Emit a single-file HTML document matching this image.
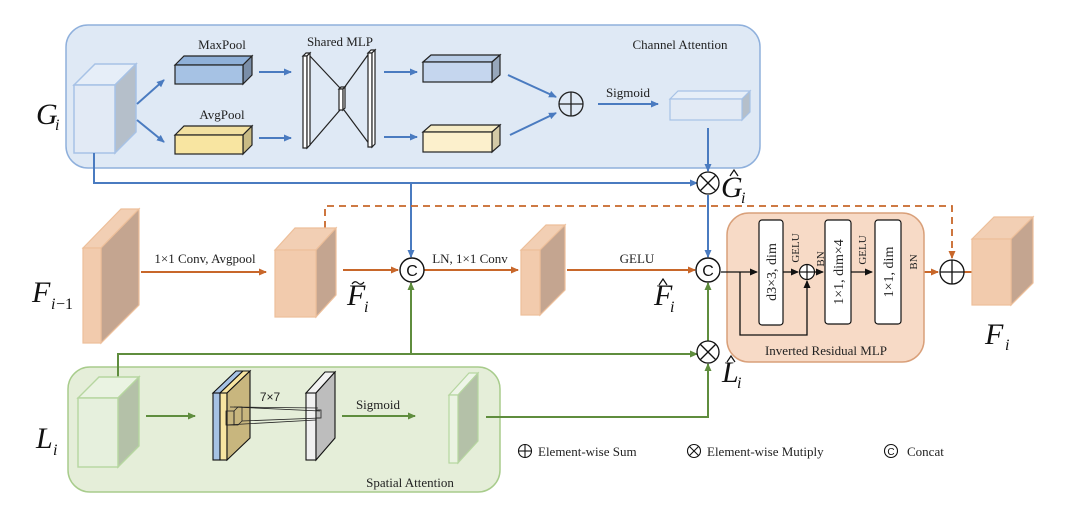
<!DOCTYPE html>
<html><head><meta charset="utf-8"><style>
html,body{margin:0;padding:0;background:#fff;}
svg{display:block;font-family:"Liberation Serif",serif;}
.t{font-size:13px;fill:#222;}
.L{font-style:italic;font-size:30px;fill:#111;}
.s{font-style:italic;font-size:16px;fill:#111;}
</style></head><body>
<svg width="1080" height="505" viewBox="0 0 1080 505" xmlns="http://www.w3.org/2000/svg">
<defs>
<marker id="ab" markerWidth="8" markerHeight="8" refX="7" refY="4" orient="auto" markerUnits="userSpaceOnUse"><path d="M0,0.5 L8,4 L0,7.5z" fill="#4a7bc0"/></marker>
<marker id="ao" markerWidth="8" markerHeight="8" refX="7" refY="4" orient="auto" markerUnits="userSpaceOnUse"><path d="M0,0.5 L8,4 L0,7.5z" fill="#c8672a"/></marker>
<marker id="ag" markerWidth="8" markerHeight="8" refX="7" refY="4" orient="auto" markerUnits="userSpaceOnUse"><path d="M0,0.5 L8,4 L0,7.5z" fill="#5f8d3e"/></marker>
<marker id="ak" markerWidth="8" markerHeight="8" refX="7" refY="4" orient="auto" markerUnits="userSpaceOnUse"><path d="M0,0.5 L8,4 L0,7.5z" fill="#111"/></marker>
</defs>

<rect x="66" y="25" width="694" height="143" rx="22" fill="#dfe9f5" stroke="#8fb0dc" stroke-width="1.5"/>
<text x="680" y="49" class="t" text-anchor="middle">Channel Attention</text>
<polygon points="74,85 95,64 136,64 115,85" fill="#e6eef8" stroke="#a7c2e6" stroke-width="1.5"/>
<polygon points="115,85 136,64 136,132 115,153" fill="#b5bfca" stroke="#a7c2e6" stroke-width="1.5"/>
<rect x="74" y="85" width="41" height="68" fill="#e2eaf5" stroke="#a7c2e6" stroke-width="1.5"/>
<text x="36" y="124" class="L">G</text><text x="55" y="130" class="s" font-size="14">i</text>
<g stroke="#4a7bc0" stroke-width="2" fill="none">
<line x1="137" y1="104" x2="164" y2="80" marker-end="url(#ab)"/>
<line x1="137" y1="120" x2="164" y2="142" marker-end="url(#ab)"/>
<line x1="259" y1="72" x2="291" y2="72" marker-end="url(#ab)"/>
<line x1="259" y1="138" x2="291" y2="138" marker-end="url(#ab)"/>
<line x1="384" y1="72" x2="417" y2="72" marker-end="url(#ab)"/>
<line x1="384" y1="137" x2="417" y2="137" marker-end="url(#ab)"/>
<line x1="508" y1="75" x2="556" y2="97" marker-end="url(#ab)"/>
<line x1="510" y1="135" x2="556" y2="113" marker-end="url(#ab)"/>
<line x1="598" y1="104" x2="658" y2="104" marker-end="url(#ab)"/>
</g>
<text x="222" y="49" class="t" text-anchor="middle">MaxPool</text>
<polygon points="175,65 184,56 252,56 243,65" fill="#8fb0d8" stroke="#222" stroke-width="1.2"/>
<polygon points="243,65 252,56 252,75 243,84" fill="#7a8ea8" stroke="#222" stroke-width="1.2"/>
<rect x="175" y="65" width="68" height="19" fill="#a6c2e4" stroke="#222" stroke-width="1.2"/>
<text x="222" y="119" class="t" text-anchor="middle">AvgPool</text>
<polygon points="175,135 184,126 252,126 243,135" fill="#f2e0a0" stroke="#222" stroke-width="1.2"/>
<polygon points="243,135 252,126 252,145 243,154" fill="#c9bb84" stroke="#222" stroke-width="1.2"/>
<rect x="175" y="135" width="68" height="19" fill="#f8e5a1" stroke="#222" stroke-width="1.2"/>
<text x="340" y="46" class="t" text-anchor="middle">Shared MLP</text>
<g stroke="#222" stroke-width="1.2" fill="#fff">
<line x1="309" y1="55" x2="340" y2="88"/><line x1="309" y1="146" x2="340" y2="110"/>
<line x1="370" y1="52" x2="344" y2="88"/><line x1="370" y1="145" x2="344" y2="110"/>
<polygon points="303,56 306,53 310,53 307,56"/><rect x="303" y="56" width="4" height="92"/><polygon points="307,56 310,53 310,145 307,148"/>
<polygon points="368,53 371,50 375,50 372,53"/><rect x="368" y="53" width="4" height="94"/><polygon points="372,53 375,50 375,144 372,147"/>
<polygon points="339,89 341,87 345,87 343,89"/><rect x="339" y="89" width="4" height="21"/><polygon points="343,89 345,87 345,108 343,110"/>
</g>
<polygon points="423,62 431,55 500,55 492,62" fill="#b8cce6" stroke="#222" stroke-width="1.2"/>
<polygon points="492,62 500,55 500,75 492,82" fill="#97a7bb" stroke="#222" stroke-width="1.2"/>
<rect x="423" y="62" width="69" height="20" fill="#c5d6ee" stroke="#222" stroke-width="1.2"/>
<polygon points="423,132 431,125 500,125 492,132" fill="#f6ecc6" stroke="#222" stroke-width="1.2"/>
<polygon points="492,132 500,125 500,145 492,152" fill="#d3c9a6" stroke="#222" stroke-width="1.2"/>
<rect x="423" y="132" width="69" height="20" fill="#fcf0cc" stroke="#222" stroke-width="1.2"/>
<circle cx="571" cy="104" r="12" fill="none" stroke="#222" stroke-width="1.3"/>
<line x1="559" y1="104" x2="583" y2="104" stroke="#222" stroke-width="1.3"/><line x1="571" y1="92" x2="571" y2="116" stroke="#222" stroke-width="1.3"/>
<text x="628" y="97" class="t" text-anchor="middle">Sigmoid</text>
<polygon points="670,99 678,91 750,91 742,99" fill="#e6eef8" stroke="#a7c2e6" stroke-width="1.2"/>
<polygon points="742,99 750,91 750,112 742,120" fill="#b5bfca" stroke="#a7c2e6" stroke-width="1.2"/>
<rect x="670" y="99" width="72" height="21" fill="#e2eaf5" stroke="#a7c2e6" stroke-width="1.2"/>

<g stroke="#4a7bc0" stroke-width="2" fill="none">
<polyline points="94,153 94,183 697,183" marker-end="url(#ab)"/>
<line x1="411" y1="183" x2="411" y2="257" marker-end="url(#ab)"/>
<line x1="708" y1="128" x2="708" y2="171" marker-end="url(#ab)"/>
<line x1="708" y1="195" x2="708" y2="257" marker-end="url(#ab)"/>
</g>
<polyline points="325,228 325,206 952,206 952,258" fill="none" stroke="#c8672a" stroke-width="1.8" stroke-dasharray="7,5" marker-end="url(#ao)"/>

<polygon points="83,248 121,209 139,209 101,248" fill="#f2cfb4" stroke="#edbf9a" stroke-width="1.2"/>
<polygon points="101,248 139,209 139,305 101,343" fill="#c4a590" stroke="#edbf9a" stroke-width="1.2"/>
<rect x="83" y="248" width="18" height="95" fill="#f2cbad" stroke="#edbf9a" stroke-width="1.2"/>
<text x="32" y="302" class="L">F</text><text x="51" y="309" class="s">i</text><text x="56" y="309" font-size="16" fill="#111">−1</text>
<g stroke="#c8672a" stroke-width="2" fill="none">
<line x1="141" y1="272" x2="266" y2="272" marker-end="url(#ao)"/>
<line x1="343" y1="270" x2="398" y2="270" marker-end="url(#ao)"/>
<line x1="424" y1="270" x2="518" y2="270" marker-end="url(#ao)"/>
<line x1="567" y1="270" x2="695" y2="270" marker-end="url(#ao)"/>
<line x1="901" y1="272" x2="938" y2="272" marker-end="url(#ao)"/>
<line x1="964" y1="272" x2="990" y2="272" marker-end="url(#ao)"/>
</g>
<text x="205" y="263" class="t" text-anchor="middle">1×1 Conv, Avgpool</text>
<polygon points="275,250 295,228 336,228 316,250" fill="#f2cfb4" stroke="#edbf9a" stroke-width="1.2"/>
<polygon points="316,250 336,228 336,295 316,317" fill="#c4a590" stroke="#edbf9a" stroke-width="1.2"/>
<rect x="275" y="250" width="41" height="67" fill="#f2cbad" stroke="#edbf9a" stroke-width="1.2"/>
<text x="347" y="305" class="L" font-size="27">F</text>
<path d="M352,284 q3,-4 6,-1 t6,-1" fill="none" stroke="#111" stroke-width="1.2"/>
<text x="364" y="312" class="s" font-size="13">i</text>
<circle cx="412" cy="270" r="12" fill="#fff" stroke="#111" stroke-width="1.4"/>
<text x="412" y="276" font-family="Liberation Sans,sans-serif" font-size="16" text-anchor="middle" fill="#111">C</text>
<text x="470" y="263" class="t" text-anchor="middle">LN, 1×1 Conv</text>
<polygon points="521,250 546,225 565,225 540,250" fill="#f2cfb4" stroke="#edbf9a" stroke-width="1.2"/>
<polygon points="540,250 565,225 565,290 540,315" fill="#c4a590" stroke="#edbf9a" stroke-width="1.2"/>
<rect x="521" y="250" width="19" height="65" fill="#f2cbad" stroke="#edbf9a" stroke-width="1.2"/>
<text x="637" y="263" class="t" text-anchor="middle">GELU</text>
<text x="654" y="305" class="L" font-size="27">F</text>
<polyline points="659,285 663,279 667,285" fill="none" stroke="#111" stroke-width="1.2"/>
<text x="670" y="312" class="s" font-size="13">i</text>
<circle cx="708" cy="270" r="12" fill="#fff" stroke="#111" stroke-width="1.4"/>
<text x="708" y="276" font-family="Liberation Sans,sans-serif" font-size="16" text-anchor="middle" fill="#111">C</text>
<circle cx="708" cy="183" r="11" fill="#fff" stroke="#111" stroke-width="1.3"/>
<line x1="700" y1="175" x2="716" y2="191" stroke="#111" stroke-width="1.3"/><line x1="716" y1="175" x2="700" y2="191" stroke="#111" stroke-width="1.3"/>
<text x="721" y="197" class="L" font-size="27">G</text>
<polyline points="730,176 734,170 738,176" fill="none" stroke="#111" stroke-width="1.2"/>
<text x="741" y="203" class="s" font-size="13">i</text>

<rect x="727" y="213" width="197" height="149" rx="22" fill="#f7dac6" stroke="#d9a07a" stroke-width="1.5"/>
<text x="826" y="355" class="t" text-anchor="middle">Inverted Residual MLP</text>
<g stroke="#111" stroke-width="1.3" fill="none">
<line x1="721" y1="272" x2="757" y2="272" marker-end="url(#ak)"/>
<polyline points="740,272 740,335 807,335 807,281" marker-end="url(#ak)"/>
<line x1="783" y1="272" x2="798" y2="272" marker-end="url(#ak)"/>
<line x1="815" y1="272" x2="823" y2="272" marker-end="url(#ak)"/>
<line x1="851" y1="272" x2="872" y2="272" marker-end="url(#ak)"/>
</g>
<circle cx="807" cy="272" r="7.5" fill="#fff" stroke="#111" stroke-width="1.2"/>
<line x1="799.5" y1="272" x2="814.5" y2="272" stroke="#111" stroke-width="1.2"/><line x1="807" y1="264.5" x2="807" y2="279.5" stroke="#111" stroke-width="1.2"/>
<rect x="759" y="220" width="24" height="105" rx="3" fill="#fff" stroke="#111" stroke-width="1.2"/>
<rect x="825" y="220" width="26" height="104" rx="3" fill="#fff" stroke="#111" stroke-width="1.2"/>
<rect x="875" y="220" width="26" height="104" rx="3" fill="#fff" stroke="#111" stroke-width="1.2"/>
<text transform="translate(776,272) rotate(-90)" font-size="14" fill="#222" text-anchor="middle">d3×3, dim</text>
<text transform="translate(843,272) rotate(-90)" font-size="14" fill="#222" text-anchor="middle">1×1, dim×4</text>
<text transform="translate(893,272) rotate(-90)" font-size="14" fill="#222" text-anchor="middle">1×1, dim</text>
<text transform="translate(799,248) rotate(-90)" font-size="11" fill="#222" text-anchor="middle">GELU</text>
<text transform="translate(824,259) rotate(-90)" font-size="11" fill="#222" text-anchor="middle">BN</text>
<text transform="translate(866,250) rotate(-90)" font-size="11" fill="#222" text-anchor="middle">GELU</text>
<text transform="translate(917,262) rotate(-90)" font-size="11" fill="#222" text-anchor="middle">BN</text>
<circle cx="952" cy="272" r="12" fill="#fff" stroke="#111" stroke-width="1.3"/>
<line x1="940" y1="272" x2="964" y2="272" stroke="#111" stroke-width="1.3"/><line x1="952" y1="260" x2="952" y2="284" stroke="#111" stroke-width="1.3"/>
<polygon points="972,239 994,217 1033,217 1011,239" fill="#f2cfb4" stroke="#edbf9a" stroke-width="1.2"/>
<polygon points="1011,239 1033,217 1033,283 1011,305" fill="#c4a590" stroke="#edbf9a" stroke-width="1.2"/>
<rect x="972" y="239" width="39" height="66" fill="#f2cbad" stroke="#edbf9a" stroke-width="1.2"/>
<text x="985" y="344" class="L">F</text><text x="1005" y="350" class="s" font-size="14">i</text>

<rect x="68" y="367" width="432" height="125" rx="22" fill="#e5eed9" stroke="#a8cc8c" stroke-width="1.5"/>
<text x="410" y="487" class="t" text-anchor="middle">Spatial Attention</text>
<g stroke="#5f8d3e" stroke-width="2" fill="none">
<polyline points="118,378 118,354 697,354" marker-end="url(#ag)"/>
<line x1="411" y1="354" x2="411" y2="283" marker-end="url(#ag)"/>
<polyline points="486,417 708,417 708,364" marker-end="url(#ag)"/>
<line x1="708" y1="341" x2="708" y2="283" marker-end="url(#ag)"/>
<line x1="146" y1="416" x2="195" y2="416" marker-end="url(#ag)"/>
<line x1="342" y1="416" x2="415" y2="416" marker-end="url(#ag)"/>
</g>
<circle cx="708" cy="352" r="11" fill="#fff" stroke="#111" stroke-width="1.3"/>
<line x1="700" y1="344" x2="716" y2="360" stroke="#111" stroke-width="1.3"/><line x1="716" y1="344" x2="700" y2="360" stroke="#111" stroke-width="1.3"/>
<text x="722" y="382" class="L" font-size="27">L</text>
<polyline points="727,362 731,356 735,362" fill="none" stroke="#111" stroke-width="1.2"/>
<text x="737" y="388" class="s" font-size="13">i</text>
<polygon points="78,398 99,377 139,377 118,398" fill="#eaf3e2" stroke="#b6d6a0" stroke-width="1.4"/>
<polygon points="118,398 139,377 139,446 118,467" fill="#b4c1a8" stroke="#b6d6a0" stroke-width="1.4"/>
<rect x="78" y="398" width="40" height="69" fill="#e6f0dd" stroke="#b6d6a0" stroke-width="1.4"/>
<text x="36" y="448" class="L">L</text><text x="53" y="455" class="s" font-size="14">i</text>
<g stroke="#111" stroke-width="1.1">
<polygon points="213,393 236,371 243,371 220,393" fill="#a6c2e4"/>
<rect x="213" y="393" width="7" height="67" fill="#a6c2e4"/>
<polygon points="220,393 243,371 250,371 227,393" fill="#f8e5a1"/>
<rect x="220" y="393" width="7" height="67" fill="#f8e5a1"/>
<polygon points="227,393 250,371 250,438 227,460" fill="#c8b67e"/>
<polygon points="306,393 325,372 335,372 316,393" fill="#f2f2f2"/>
<rect x="306" y="393" width="10" height="67" fill="#f0f0f0"/>
<polygon points="316,393 335,372 335,438 316,460" fill="#bdbdbd"/>
</g>
<g stroke="#222" stroke-width="0.8" fill="none">
<rect x="226" y="411" width="8" height="14"/><polygon points="234,411 238,407 242,407 242,421 238,425 234,425"/>
<line x1="234" y1="407" x2="320" y2="411"/><line x1="242" y1="421" x2="320" y2="418"/>
<line x1="226" y1="425" x2="316" y2="420"/><line x1="230" y1="407" x2="318" y2="408"/>
<rect x="316" y="410" width="5" height="8"/>
</g>
<text x="270" y="401" font-family="Liberation Sans,sans-serif" font-size="12" fill="#222" text-anchor="middle">7×7</text>
<text x="378" y="409" class="t" text-anchor="middle">Sigmoid</text>
<polygon points="449,395 469,373 478,373 458,395" fill="#eef5e8" stroke="#b6d6a0" stroke-width="1.2"/>
<polygon points="458,395 478,373 478,441 458,463" fill="#b4c1a8" stroke="#b6d6a0" stroke-width="1.2"/>
<rect x="449" y="395" width="9" height="68" fill="#eaf3e2" stroke="#b6d6a0" stroke-width="1.2"/>

<g stroke="#111" stroke-width="1.1" fill="none">
<circle cx="525" cy="451" r="6.5"/><line x1="518.5" y1="451" x2="531.5" y2="451"/><line x1="525" y1="444.5" x2="525" y2="457.5"/>
<circle cx="694" cy="451" r="6.5"/><line x1="689.5" y1="446.5" x2="698.5" y2="455.5"/><line x1="698.5" y1="446.5" x2="689.5" y2="455.5"/>
<circle cx="891" cy="451" r="6.5"/>
</g>
<text x="891" y="455" font-family="Liberation Sans,sans-serif" font-size="10" text-anchor="middle" fill="#111">C</text>
<text x="538" y="456" class="t">Element-wise Sum</text>
<text x="707" y="456" class="t">Element-wise Mutiply</text>
<text x="907" y="456" class="t">Concat</text>
</svg>
</body></html>
